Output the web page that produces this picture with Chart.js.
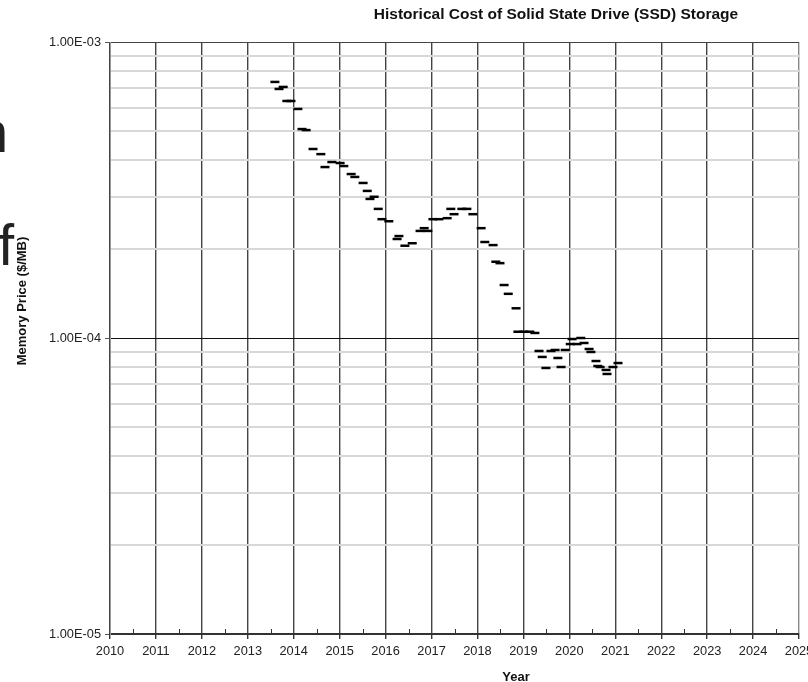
<!DOCTYPE html>
<html lang="en">
<head>
    <meta charset="UTF-8">
    <title>Historical Cost of Solid State Drive (SSD) Storage</title>
    <script src="https://cdn.jsdelivr.net/npm/chart.js"></script>
    <style>
        html, body { margin: 0; padding: 0; background: #fff; }
        .wrap { position: relative; width: 808px; height: 682px; }
    </style>
</head>
<body>
    <div class="wrap">
        <canvas id="ssdChart" width="808" height="682"></canvas>
    </div>

    <script>
        // values (year, $/MB)
        const years = [
            2013.59, 2013.68, 2013.77, 2013.85, 2013.94, 2014.09, 2014.18, 2014.27, 2014.42, 2014.59,
            2014.68, 2014.83, 2015.01, 2015.09, 2015.25, 2015.33, 2015.51, 2015.60, 2015.66, 2015.75,
            2015.84, 2015.92, 2016.07, 2016.25, 2016.29, 2016.42, 2016.58, 2016.75, 2016.84, 2016.92,
            2017.03, 2017.16, 2017.34, 2017.42, 2017.49, 2017.66, 2017.77, 2017.90, 2018.08, 2018.16,
            2018.34, 2018.40, 2018.49, 2018.58, 2018.67, 2018.84, 2018.88, 2019.01, 2019.14, 2019.25,
            2019.34, 2019.41, 2019.49, 2019.60, 2019.69, 2019.75, 2019.82, 2019.91, 2020.02, 2020.06,
            2020.17, 2020.25, 2020.32, 2020.43, 2020.47, 2020.58, 2020.62, 2020.67, 2020.80, 2020.82,
            2020.95, 2021.06
        ];
        const prices = [
            7.33e-4, 6.94e-4, 7.05e-4, 6.32e-4, 6.32e-4, 5.94e-4, 5.08e-4, 5.04e-4, 4.35e-4, 4.18e-4,
            3.78e-4, 3.93e-4, 3.90e-4, 3.81e-4, 3.58e-4, 3.50e-4, 3.34e-4, 3.14e-4, 2.95e-4, 3.00e-4,
            2.73e-4, 2.52e-4, 2.48e-4, 2.16e-4, 2.21e-4, 2.05e-4, 2.09e-4, 2.30e-4, 2.35e-4, 2.30e-4,
            2.52e-4, 2.52e-4, 2.54e-4, 2.73e-4, 2.62e-4, 2.73e-4, 2.73e-4, 2.62e-4, 2.35e-4, 2.11e-4,
            2.06e-4, 1.81e-4, 1.79e-4, 1.51e-4, 1.41e-4, 1.26e-4, 1.05e-4, 1.05e-4, 1.05e-4, 1.04e-4,
            9.04e-5, 8.63e-5, 7.92e-5, 9.04e-5, 9.11e-5, 8.56e-5, 7.98e-5, 9.11e-5, 9.54e-5, 9.92e-5,
            9.54e-5, 1.00e-4, 9.62e-5, 9.18e-5, 8.97e-5, 8.36e-5, 8.04e-5, 7.98e-5, 7.80e-5, 7.56e-5,
            7.98e-5, 8.23e-5
        ];
        const yearTicks = [2010, 2011, 2012, 2013, 2014, 2015, 2016, 2017, 2018, 2019, 2020, 2021, 2022, 2023, 2024, 2025];
        const decades = [-5, -4, -3];

        const chartTitle = 'Historical Cost of Solid State Drive (SSD) Storage';
        const xTitle = 'Year';
        const yTitle = 'Memory Price ($/MB)';

        const points = years.map((yr, i) => ({ x: yr, y: prices[i] }));
        const tickFont = { family: '"Liberation Sans", Arial, sans-serif', size: 12.8 };

        function isDecade(v) {
            const e = Math.floor(Math.log10(v) + 1e-9);
            return Math.abs(v / Math.pow(10, e) - 1) < 1e-6;
        }
        function sciLabel(v) {
            const e = Math.round(Math.log10(v));
            const m = v / Math.pow(10, e);
            return m.toFixed(2) + 'E' + (e < 0 ? '-' : '+') + String(Math.abs(e)).padStart(2, '0');
        }

        // titles, half year ticks and the stray letters on the left
        const extras = {
            id: 'extras',
            afterDraw(chart) {
                const ctx = chart.ctx;
                const xs = chart.scales.x;
                const area = chart.chartArea;
                ctx.save();

                ctx.strokeStyle = '#333';
                ctx.lineWidth = 1;
                for (let i = 0; i < yearTicks.length - 1; i++) {
                    const px = Math.round(xs.getPixelForValue(yearTicks[i] + 0.5)) + 0.5;
                    ctx.beginPath();
                    ctx.moveTo(px, area.bottom);
                    ctx.lineTo(px, area.bottom - 5);
                    ctx.stroke();
                }

                ctx.fillStyle = '#111';
                ctx.font = 'bold 15.5px "Liberation Sans", Arial, sans-serif';
                ctx.textAlign = 'center';
                ctx.textBaseline = 'middle';
                ctx.fillText(chartTitle, 556, 15);

                ctx.font = 'bold 13px "Liberation Sans", Arial, sans-serif';
                ctx.fillText(xTitle, 516, 677);

                ctx.translate(22, 301);
                ctx.rotate(-Math.PI / 2);
                ctx.fillText(yTitle, 0, 0);
                ctx.setTransform(1, 0, 0, 1, 0, 0);

                ctx.fillStyle = '#222';
                ctx.textAlign = 'left';
                ctx.textBaseline = 'alphabetic';
                ctx.font = '58px "Liberation Sans", sans-serif';
                ctx.fillText('n', -24, 152);
                ctx.fillText('f', -2, 265);
                ctx.restore();
            }
        };

        new Chart(document.getElementById('ssdChart'), {
            type: 'scatter',
            data: {
                datasets: [{
                    label: 'SSD',
                    data: points,
                    pointStyle: 'line',
                    pointRadius: 4.5,
                    pointBorderWidth: 2.5,
                    borderColor: '#000',
                    backgroundColor: '#000',
                    showLine: false
                }]
            },
            plugins: [extras],
            options: {
                responsive: false,
                animation: false,
                layout: { padding: { top: 42, right: 9, bottom: 0, left: 0 } },
                plugins: {
                    legend: { display: false },
                    tooltip: { enabled: false }
                },
                scales: {
                    x: {
                        type: 'linear',
                        min: yearTicks[0],
                        max: yearTicks[yearTicks.length - 1],
                        afterBuildTicks: s => { s.ticks = yearTicks.map(v => ({ value: v })); },
                        afterFit: s => { s.height = 48; s.paddingLeft = 0; s.paddingRight = 0; },
                        grid: {
                            color: c => (c.tick && c.tick.value === 2025) ? '#888' : '#444',
                            lineWidth: 1.4,
                            tickLength: 5,
                            tickColor: '#333'
                        },
                        border: { color: '#333', width: 2 },
                        ticks: {
                            autoSkip: false,
                            maxRotation: 0,
                            padding: 5,
                            color: '#222',
                            font: tickFont,
                            callback: v => String(v)
                        }
                    },
                    y: {
                        type: 'logarithmic',
                        min: 1e-5,
                        max: 1e-3,
                        afterBuildTicks: s => {
                            const list = [];
                            decades.forEach(e => {
                                const top = e === decades[decades.length - 1] ? 1 : 9;
                                for (let m = 1; m <= top; m++) list.push({ value: m * Math.pow(10, e) });
                            });
                            s.ticks = list;
                        },
                        afterFit: s => { s.width = 110; s.paddingTop = 0; s.paddingBottom = 0; },
                        grid: {
                            color: c => {
                                if (!c.tick) return '#ddd';
                                if (c.tick.value > 9.9e-4) return '#444';
                                if (c.tick.value < 1.01e-5) return 'rgba(0,0,0,0)';
                                return isDecade(c.tick.value) ? '#111' : '#d8d8d8';
                            },
                            lineWidth: c => (c.tick && !isDecade(c.tick.value)) ? 2 : 1,
                            tickLength: 5,
                            tickColor: c => (c.tick && isDecade(c.tick.value)) ? '#555' : 'rgba(0,0,0,0)'
                        },
                        border: { color: '#999', width: 1 },
                        ticks: {
                            autoSkip: false,
                            padding: 4,
                            color: '#222',
                            font: tickFont,
                            callback: v => isDecade(v) ? sciLabel(v) : ''
                        }
                    }
                }
            }
        });
    </script>
</body>
</html>
